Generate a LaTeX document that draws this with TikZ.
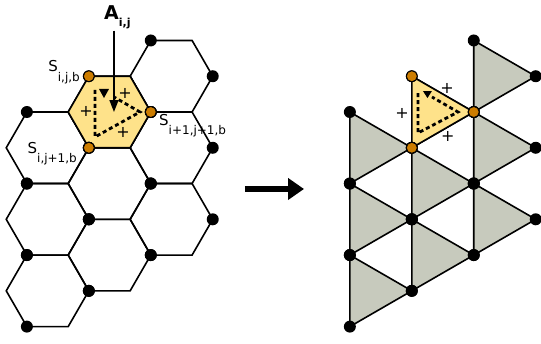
\documentclass[tikz,border=0pt]{standalone}
\usepackage{fontspec}
\setmainfont{DejaVu Sans}
\usetikzlibrary{arrows.meta}
\definecolor{cellyellow}{RGB}{254,226,138}
\definecolor{trigray}{RGB}{199,202,189}
\definecolor{siteorange}{RGB}{205,125,0}
\newcommand\site[1]{{\fontsize{15}{15}\selectfont S}\raisebox{-9.5pt}{\fontsize{12}{12}\selectfont #1}}
\tikzset{
  edge/.style={line width=1.6pt},
  dashline/.style={line width=2.8pt,dash pattern=on 4pt off 3pt},
  orangedot/.style={fill=siteorange,draw=black,line width=.9pt},
  plussign/.style={font=\fontsize{16}{16}\selectfont,inner sep=0pt},
  sitelabel/.style={inner sep=0pt}
}
\begin{document}
\begin{tikzpicture}[x=41.3pt,y=41.3pt]
\useasboundingbox (0,0) rectangle (13.099,8.329);
\begin{scope}[shift={(2.651,5.617)}]
\foreach \c in {-1,0,1}
  \foreach \r in {0,1,2}
    \draw[edge] ({1.5*\c},{0.866*\c-1.732*\r}) +(0:1) -- +(60:1) -- +(120:1) -- +(180:1) -- +(240:1) -- +(300:1) -- cycle;
\filldraw[edge,fill=cellyellow] (0,0) +(0:1) -- +(60:1) -- +(120:1) -- +(180:1) -- +(240:1) -- +(300:1) -- cycle;
\draw[dashline] (-0.351,0.533) -- (-0.351,-0.605) -- (0.738,0) -- (0.109,0.363);
\fill (-0.254,0.557) -- (-0.012,0.557) -- (-0.133,0.339) -- cycle;
\node[plussign] (lp1) at (0.375,0.46) {+};
\node[plussign] (lp2) at (-0.569,0.024) {+};
\node[plussign] (lp3) at (0.327,-0.508) {+};
\coordinate (atip) at (0.109,0);
\node[anchor=base west,inner sep=1pt] (alab) at (-0.157,2.228)
  {\bfseries\fontsize{19}{19}\selectfont A\raisebox{-7pt}{\fontsize{11}{11}\selectfont i,j}};
\draw[edge,-{Triangle[length=12pt,width=9pt]}] (alab.south -| atip) -- (atip);
\foreach \c in {-1,0,1}
  \foreach \r in {0,1,2} {
    \coordinate (h) at ({1.5*\c},{0.866*\c-1.732*\r});
    \fill ([shift={(120:1)}]h) circle (6pt)
          ([shift={(0:1)}]h) circle (6pt)
          ([shift={(240:1)}]h) circle (6pt);
  }
\filldraw[orangedot] (120:1) circle (5.5pt) (0:1) circle (5.5pt) (240:1) circle (5.5pt);
\node[sitelabel,anchor=base east] (sij) at (-0.714,0.969) {\site{i,j,b}};
\node[sitelabel,anchor=base west] (si1) at (1.199,-0.315) {\site{i+1,j+1,b}};
\node[sitelabel,anchor=base east] (sij1) at (-0.787,-0.993) {\site{i,j+1,b}};
\end{scope}
\coordinate (mapfrom) at (5.932,3.753);
\coordinate (mapto) at (7.361,3.753);
\draw[line width=5.5pt,-{Triangle[length=16pt,width=21pt]}] (mapfrom) -- (mapto);
\begin{scope}[shift={(10.471,5.617)}]
\foreach \c in {-1,0,1}
  \foreach \r in {0,1,2} {
    \coordinate (h) at ({1.5*\c},{0.866*\c-1.732*\r});
    \filldraw[edge,fill=trigray] ([shift={(120:1)}]h) -- ([shift={(0:1)}]h) -- ([shift={(240:1)}]h) -- cycle;
  }
\filldraw[edge,fill=cellyellow] (120:1) -- (0:1) -- (240:1) -- cycle;
\draw[dashline] (-0.351,0.46) -- (-0.351,-0.508) -- (0.617,0) -- (-0.012,0.363);
\fill (-0.230,0.508) -- (-0.012,0.508) -- (-0.121,0.339) -- cycle;
\node[plussign] (rp1) at (0.351,0.581) {+};
\node[plussign] (rp2) at (-0.738,-0.024) {+};
\node[plussign] (rp3) at (0.375,-0.581) {+};
\foreach \c in {-1,0,1}
  \foreach \r in {0,1,2} {
    \coordinate (h) at ({1.5*\c},{0.866*\c-1.732*\r});
    \fill ([shift={(120:1)}]h) circle (6pt)
          ([shift={(0:1)}]h) circle (6pt)
          ([shift={(240:1)}]h) circle (6pt);
  }
\filldraw[orangedot] (120:1) circle (5.5pt) (0:1) circle (5.5pt) (240:1) circle (5.5pt);
\end{scope}
\end{tikzpicture}
\end{document}
